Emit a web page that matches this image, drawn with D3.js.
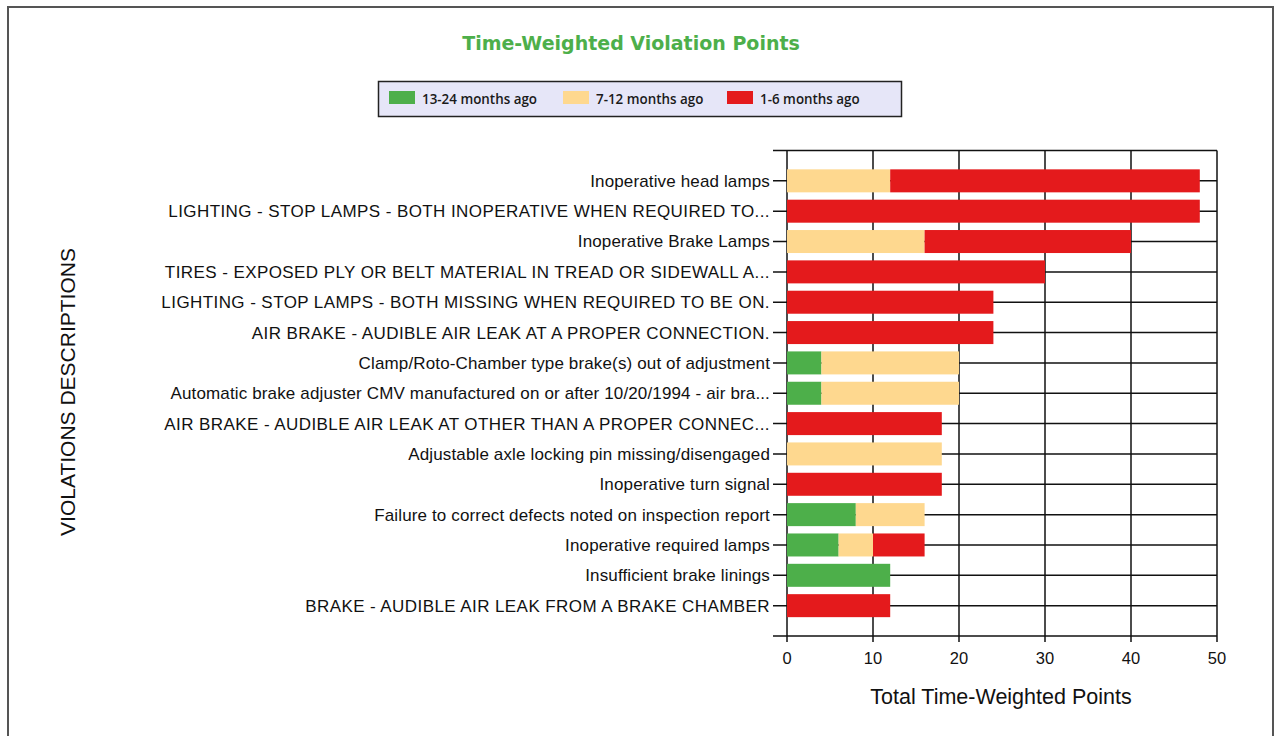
<!DOCTYPE html>
<html>
<head>
<meta charset="utf-8">
<script src="https://cdn.jsdelivr.net/npm/d3@7"></script>
<style>
  body { margin: 0; background: #fff; }
  svg { display: block; }
</style>
</head>
<body>
<svg width="1276" height="736"></svg>
<script>
var categories = [
  'Inoperative head lamps',
  'LIGHTING - STOP LAMPS - BOTH INOPERATIVE WHEN REQUIRED TO...',
  'Inoperative Brake Lamps',
  'TIRES - EXPOSED PLY OR BELT MATERIAL IN TREAD OR SIDEWALL A...',
  'LIGHTING - STOP LAMPS - BOTH MISSING WHEN REQUIRED TO BE ON.',
  'AIR BRAKE - AUDIBLE AIR LEAK AT A PROPER CONNECTION.',
  'Clamp/Roto-Chamber type brake(s) out of adjustment',
  'Automatic brake adjuster CMV manufactured on or after 10/20/1994 - air bra...',
  'AIR BRAKE - AUDIBLE AIR LEAK AT OTHER THAN A PROPER CONNEC...',
  'Adjustable axle locking pin missing/disengaged',
  'Inoperative turn signal',
  'Failure to correct defects noted on inspection report',
  'Inoperative required lamps',
  'Insufficient brake linings',
  'BRAKE - AUDIBLE AIR LEAK FROM A BRAKE CHAMBER'
];
var months13to24 = [0, 0, 0, 0, 0, 0, 4, 4, 0, 0, 0, 8, 6, 12, 0];
var months7to12  = [12, 0, 16, 0, 0, 0, 16, 16, 0, 18, 0, 8, 4, 0, 0];
var months1to6   = [36, 48, 24, 30, 24, 24, 0, 0, 18, 0, 18, 0, 6, 0, 12];
var seriesNames = ['13-24 months ago', '7-12 months ago', '1-6 months ago'];
var seriesColors = ['#4daf4a', '#fed88f', '#e41a1c'];
var xTicks = [0, 10, 20, 30, 40, 50];

var svg = d3.select('svg');

// outer frame
svg.append('path')
  .attr('d', 'M8,736 V7 H1273 V736')
  .attr('fill', 'none')
  .attr('stroke', '#555')
  .attr('stroke-width', 2);

// title
svg.append('text')
  .attr('x', 631).attr('y', 50)
  .attr('text-anchor', 'middle')
  .style('font-family', '"DejaVu Sans"')
  .style('font-weight', 'bold')
  .style('font-size', '19px')
  .attr('fill', '#4daf4a')
  .text('Time-Weighted Violation Points');

// legend
var legend = svg.append('g');
legend.append('rect')
  .attr('x', 378.5).attr('y', 81.5).attr('width', 523).attr('height', 35)
  .attr('fill', '#e6e6f8').attr('stroke', '#222').attr('stroke-width', 1.5);
var legendX = [389, 563, 727];
seriesNames.forEach(function(name, i) {
  legend.append('rect')
    .attr('x', legendX[i]).attr('y', 91).attr('width', 26).attr('height', 13)
    .attr('fill', seriesColors[i]);
  legend.append('text')
    .attr('x', legendX[i] + 33).attr('y', 104)
    .style('font-family', '"Open Sans"')
    .style('font-size', '13.4px')
    .style('font-weight', 600)
    .attr('fill', '#1a1a1a')
    .text(name);
});

var plotL = 787, plotR = 1217, plotT = 150.5, plotB = 636;

var x = d3.scaleLinear().domain([0, 50]).range([plotL, plotR]);
var y = d3.scalePoint().domain(categories).range([plotT, plotB]).padding(1);
var barH = 23;

var g = svg.append('g');

// vertical grid
g.selectAll('line.vgrid')
  .data(xTicks)
  .enter().append('line')
  .attr('class', 'vgrid')
  .attr('x1', function(d) { return x(d); })
  .attr('x2', function(d) { return x(d); })
  .attr('y1', plotT).attr('y2', plotB + 6)
  .attr('stroke', '#111').attr('stroke-width', 1.5);

// horizontal grid (with ticks sticking out left)
var hLines = [plotT].concat(categories.map(function(c) { return y(c); })).concat([plotB]);
g.selectAll('line.hgrid')
  .data(hLines)
  .enter().append('line')
  .attr('class', 'hgrid')
  .attr('x1', plotL - 14).attr('x2', plotR)
  .attr('y1', function(d) { return d; })
  .attr('y2', function(d) { return d; })
  .attr('stroke', '#111').attr('stroke-width', 1.5);

// stacked bars
var rows = categories.map(function(c, i) {
  return { cat: c, values: [months13to24[i], months7to12[i], months1to6[i]] };
});
var segs = [];
rows.forEach(function(r) {
  var acc = 0;
  r.values.forEach(function(v, k) {
    if (v > 0) segs.push({ cat: r.cat, x0: acc, x1: acc + v, k: k });
    acc += v;
  });
});
g.selectAll('rect.bar')
  .data(segs)
  .enter().append('rect')
  .attr('class', 'bar')
  .attr('x', function(d) { return x(d.x0); })
  .attr('width', function(d) { return x(d.x1) - x(d.x0); })
  .attr('y', function(d) { return y(d.cat) - barH / 2; })
  .attr('height', barH)
  .attr('fill', function(d) { return seriesColors[d.k]; });

// category labels (all-caps ones render a touch wider in the original)
g.selectAll('text.cat')
  .data(categories)
  .enter().append('text')
  .attr('class', 'cat')
  .attr('x', plotL - 17)
  .attr('y', function(d) { return y(d); })
  .attr('dy', '0.35em')
  .attr('text-anchor', 'end')
  .style('font-family', '"Liberation Sans", Arial, sans-serif')
  .style('font-size', '17px')
  .style('letter-spacing', function(d) { return d === d.toUpperCase() ? '0.42px' : '0.14px'; })
  .attr('fill', '#111')
  .text(function(d) { return d; });

// x tick labels
g.selectAll('text.xt')
  .data(xTicks)
  .enter().append('text')
  .attr('class', 'xt')
  .attr('x', function(d) { return x(d); })
  .attr('y', 664)
  .attr('text-anchor', 'middle')
  .style('font-family', '"Liberation Sans", Arial, sans-serif')
  .style('font-size', '16.5px')
  .attr('fill', '#111')
  .text(function(d) { return d; });

// axis titles
svg.append('text')
  .attr('x', 1001).attr('y', 704)
  .attr('text-anchor', 'middle')
  .style('font-family', '"Liberation Sans", Arial, sans-serif')
  .style('font-size', '21.5px')
  .attr('fill', '#111')
  .text('Total Time-Weighted Points');

svg.append('text')
  .attr('transform', 'translate(75,392) rotate(-90)')
  .attr('text-anchor', 'middle')
  .style('font-family', '"Liberation Sans", Arial, sans-serif')
  .style('font-size', '21px')
  .attr('fill', '#111')
  .text('VIOLATIONS DESCRIPTIONS');
</script>
</body>
</html>
